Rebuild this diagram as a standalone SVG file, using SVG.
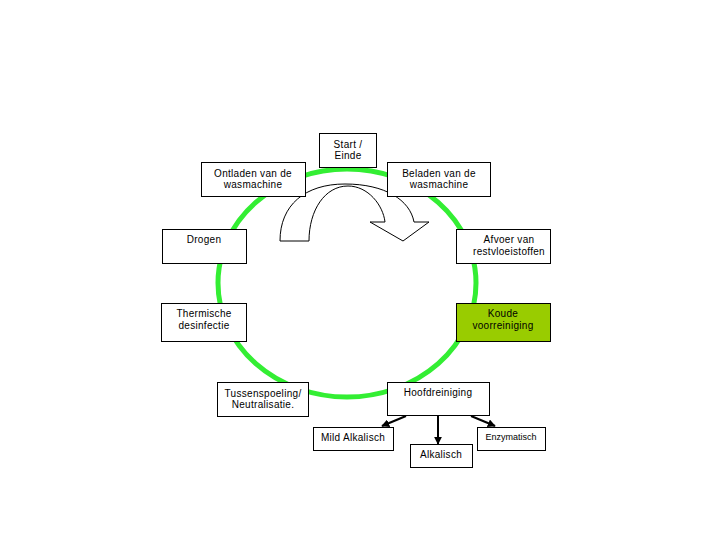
<svg xmlns="http://www.w3.org/2000/svg" width="720" height="540" viewBox="0 0 720 540">
<style>
.box{fill:#fff;stroke:#000;stroke-width:1}
.t{font-family:"Liberation Sans",Arial,sans-serif;font-size:10px;fill:#000;text-anchor:middle;letter-spacing:0.3px}
.c{fill:none;stroke:#000;stroke-width:2}
</style>
<defs>
<marker id="ah" viewBox="0 0 10 10" refX="9" refY="5" markerWidth="4" markerHeight="4" orient="auto" markerUnits="strokeWidth">
<path d="M0,0 L10,5 L0,10 z" fill="#000"/>
</marker>
</defs>
<rect width="720" height="540" fill="#fff"/>
<g id="ring">
<ellipse cx="347" cy="283" rx="129" ry="114" fill="none" stroke="#33EE33" stroke-width="5"/>
</g>
<g id="cycle-arrow">
<path d="M280,241 L309,241 C309,210 325,186 348,186 C368,186 383,205 385,222 L370,222 L403,241 L429,222 L414,222 C410,200 385,184 345,184 C305,184 280,205 280,241 Z" fill="#fff" stroke="#000" stroke-width="1"/>
</g>
<g id="connectors">
<line class="c" x1="406" y1="416" x2="382" y2="426" marker-end="url(#ah)"/>
<line class="c" x1="438" y1="416" x2="438" y2="444" marker-end="url(#ah)"/>
<line class="c" x1="471" y1="416" x2="495" y2="426" marker-end="url(#ah)"/>
</g>
<g id="start">
<rect class="box" x="319.5" y="133.5" width="57" height="34"/>
<text class="t" x="348" y="148">Start /</text>
<text class="t" x="348" y="159">Einde</text>
</g>
<g id="ontladen">
<rect class="box" x="201.5" y="162.5" width="104" height="34"/>
<text class="t" x="253" y="177">Ontladen van de</text>
<text class="t" x="253" y="188">wasmachine</text>
</g>
<g id="beladen">
<rect class="box" x="387.5" y="162.5" width="103" height="34"/>
<text class="t" x="439" y="177">Beladen van de</text>
<text class="t" x="439" y="188">wasmachine</text>
</g>
<g id="drogen">
<rect class="box" x="162.5" y="229.5" width="84" height="34"/>
<text class="t" x="204" y="243">Drogen</text>
</g>
<g id="afvoer">
<rect class="box" x="456.5" y="229.5" width="94" height="34"/>
<text class="t" x="509" y="243">Afvoer van</text>
<text class="t" x="509" y="255">restvloeistoffen</text>
</g>
<g id="thermische">
<rect class="box" x="161.5" y="303.5" width="85" height="38"/>
<text class="t" x="204" y="317">Thermische</text>
<text class="t" x="204" y="329">desinfectie</text>
</g>
<g id="koude">
<rect x="456.5" y="303.5" width="94" height="38" fill="#99CC00" stroke="#000" stroke-width="1"/>
<text class="t" x="503" y="317">Koude</text>
<text class="t" x="503" y="329">voorreiniging</text>
</g>
<g id="tussenspoeling">
<rect class="box" x="217.5" y="382.5" width="91" height="34"/>
<text class="t" x="263" y="397">Tussenspoeling/</text>
<text class="t" x="263" y="408">Neutralisatie.</text>
</g>
<g id="hoofdreiniging">
<rect class="box" x="387.5" y="382.5" width="102" height="33"/>
<text class="t" x="438" y="396">Hoofdreiniging</text>
</g>
<g id="mild">
<rect class="box" x="313.5" y="427.5" width="80" height="23"/>
<text class="t" x="353" y="441">Mild Alkalisch</text>
</g>
<g id="alkalisch">
<rect class="box" x="410.5" y="444.5" width="62" height="23"/>
<text class="t" x="441" y="458">Alkalisch</text>
</g>
<g id="enzymatisch">
<rect class="box" x="477.5" y="427.5" width="68" height="23"/>
<text class="t" x="511" y="440" style="font-size:9px;letter-spacing:0">Enzymatisch</text>
</g>
</svg>
